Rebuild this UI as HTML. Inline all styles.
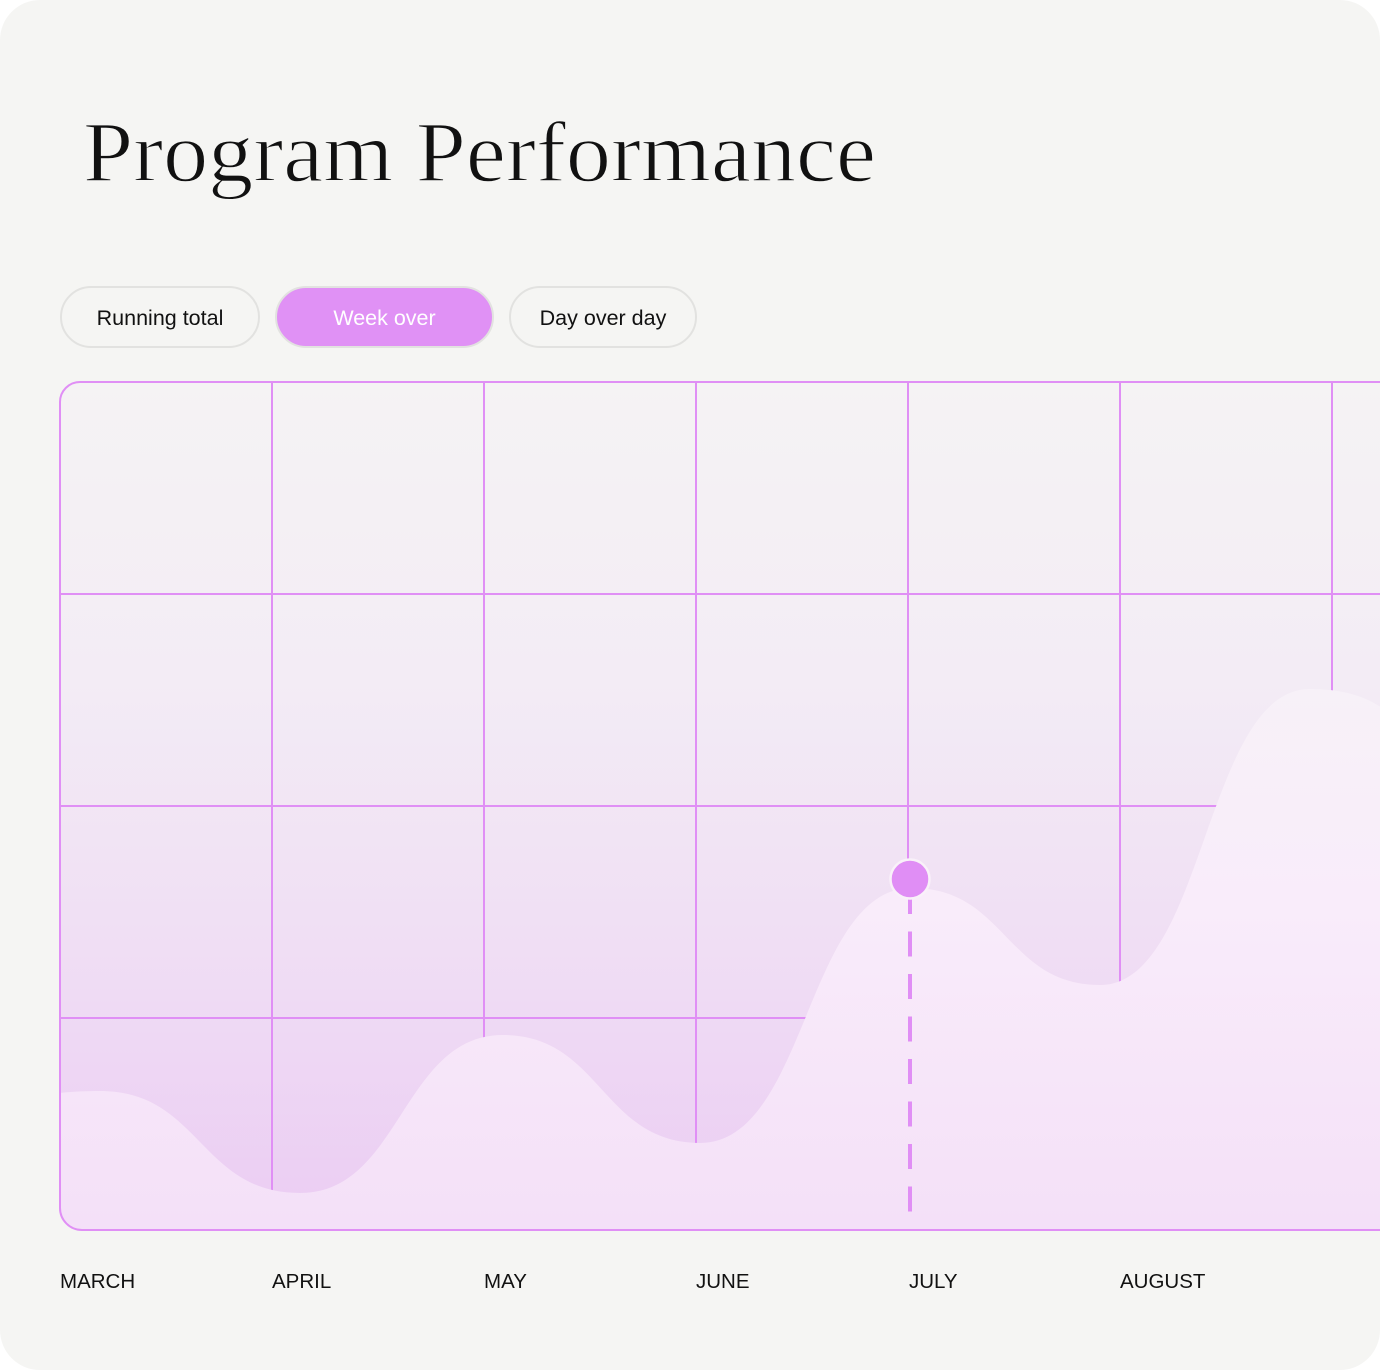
<!DOCTYPE html>
<html>
<head>
<meta charset="utf-8">
<style>
  html, body { margin: 0; padding: 0; background: #ffffff; }
  svg { display: block; }
</style>
</head>
<body>
<svg width="1380" height="1370" viewBox="0 0 1380 1370" xmlns="http://www.w3.org/2000/svg">
  <defs>
    <linearGradient id="bgGrad" x1="0" y1="382" x2="0" y2="1230" gradientUnits="userSpaceOnUse">
      <stop offset="0" stop-color="#F5F3F4"/>
      <stop offset="0.35" stop-color="#F3ECF5"/>
      <stop offset="0.65" stop-color="#F0DFF4"/>
      <stop offset="1" stop-color="#EBCCF3"/>
    </linearGradient>
    <linearGradient id="waveGrad" x1="0" y1="689" x2="0" y2="1230" gradientUnits="userSpaceOnUse">
      <stop offset="0" stop-color="#F7F1F8"/>
      <stop offset="0.4" stop-color="#F9ECFA"/>
      <stop offset="1" stop-color="#F4E0F8"/>
    </linearGradient>
    <clipPath id="chartClip">
      <path d="M 80 382 L 1400 382 L 1400 1230 L 82 1230 A 22 22 0 0 1 60 1208 L 60 402 A 20 20 0 0 1 80 382 Z"/>
    </clipPath>
  </defs>

  <!-- card -->
  <rect x="0" y="0" width="1380" height="1370" rx="40" ry="40" fill="#F5F5F3"/>

  <!-- title -->
  <text x="83" y="181" font-family="'Liberation Serif', serif" font-size="86" fill="#111111" stroke="#F5F5F3" stroke-width="1.4" textLength="793" lengthAdjust="spacingAndGlyphs">Program Performance</text>

  <!-- buttons -->
  <rect x="61" y="287" width="198" height="60" rx="30" ry="30" fill="#F5F5F3" stroke="#E2E2E0" stroke-width="2"/>
  <text x="160" y="325" text-anchor="middle" font-family="'Liberation Sans', sans-serif" font-size="21.5" fill="#111111">Running total</text>

  <rect x="276" y="287" width="217" height="60" rx="30" ry="30" fill="#E091F5" stroke="#E2E2E0" stroke-width="2"/>
  <text x="384.5" y="325" text-anchor="middle" font-family="'Liberation Sans', sans-serif" font-size="21.5" fill="#FFFFFF">Week over</text>

  <rect x="510" y="287" width="186" height="60" rx="30" ry="30" fill="#F5F5F3" stroke="#E2E2E0" stroke-width="2"/>
  <text x="603" y="325" text-anchor="middle" font-family="'Liberation Sans', sans-serif" font-size="21.5" fill="#111111">Day over day</text>

  <!-- chart -->
  <g clip-path="url(#chartClip)">
    <rect x="60" y="382" width="1340" height="848" fill="url(#bgGrad)"/>
    <!-- grid -->
    <g stroke="#E08FF5" stroke-width="2">
      <line x1="272" y1="382" x2="272" y2="1230"/>
      <line x1="484" y1="382" x2="484" y2="1230"/>
      <line x1="696" y1="382" x2="696" y2="1230"/>
      <line x1="908" y1="382" x2="908" y2="1230"/>
      <line x1="1120" y1="382" x2="1120" y2="1230"/>
      <line x1="1332" y1="382" x2="1332" y2="1230"/>
      <line x1="60" y1="594" x2="1400" y2="594"/>
      <line x1="60" y1="806" x2="1400" y2="806"/>
      <line x1="60" y1="1018" x2="1400" y2="1018"/>
    </g>
    <!-- wave -->
    <path fill="url(#waveGrad)" d="M 30 1097 C 60 1092 80 1091 100 1091 C 200 1091 200 1193 300 1193 C 401 1193 402 1035 503 1035 C 601 1035 602 1143 700 1143 C 807 1143 806 888 912 888 C 1006 888 1006 985 1100 985 C 1205 985 1205 689 1310 689 C 1350 689 1380 700 1400 725 L 1400 1240 L 30 1240 Z"/>
    <!-- dashed line -->
    <line x1="910" y1="889" x2="910" y2="1212" stroke="#E08EF5" stroke-width="4" stroke-dasharray="25 17.5"/>
  </g>

  <!-- chart border -->
  <path d="M 1400 382 L 80 382 A 20 20 0 0 0 60 402 L 60 1208 A 22 22 0 0 0 82 1230 L 1400 1230" fill="none" stroke="#E08FF5" stroke-width="2"/>

  <!-- point -->
  <circle cx="910" cy="879" r="19.5" fill="#E08EF5" stroke="#F9F1F9" stroke-width="2.5"/>

  <!-- month labels -->
  <g font-family="'Liberation Sans', sans-serif" font-size="20.5" fill="#111111">
    <text x="60" y="1288">MARCH</text>
    <text x="272" y="1288">APRIL</text>
    <text x="484" y="1288">MAY</text>
    <text x="696" y="1288">JUNE</text>
    <text x="909" y="1288">JULY</text>
    <text x="1120" y="1288">AUGUST</text>
  </g>
</svg>
</body>
</html>
